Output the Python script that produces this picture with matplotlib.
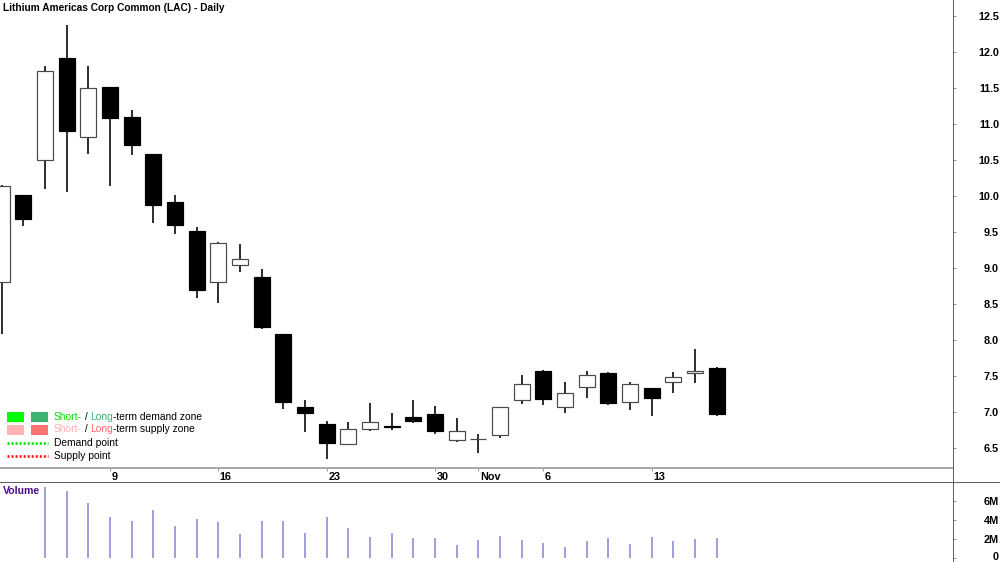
import numpy as np
import pandas as pd
import matplotlib
matplotlib.use("Agg")
import matplotlib.pyplot as plt
from matplotlib.lines import Line2D
from matplotlib.patches import Rectangle
import matplotlib.transforms as mtransforms
from matplotlib.ticker import FuncFormatter

plt.rcParams['font.family'] = ['Liberation Sans', 'DejaVu Sans']

# ---------------- data ----------------
title = "Lithium Americas Corp Common (LAC) - Daily"
dates = pd.bdate_range("2023-10-02", "2023-11-16")
opens  = [8.81, 10.01, 10.50, 11.92, 10.82, 11.51, 11.10, 10.58, 9.92, 9.52,
          8.81, 9.04, 8.875, 8.08, 7.07, 6.83, 6.55, 6.77, 6.81, 6.93,
          6.97, 6.61, 6.625, 6.68, 7.17, 7.57, 7.07, 7.35, 7.545, 7.14,
          7.33, 7.42, 7.54, 7.615]
highs  = [10.15, 10.01, 11.81, 12.38, 11.80, 11.51, 11.19, 10.59, 10.01, 9.57,
          9.36, 9.34, 8.99, 8.08, 7.16, 6.88, 6.86, 7.13, 6.98, 7.17,
          7.08, 6.91, 6.70, 7.07, 7.51, 7.59, 7.42, 7.57, 7.55, 7.42,
          7.33, 7.56, 7.88, 7.62]
lows   = [8.08, 9.59, 10.10, 10.05, 10.58, 10.14, 10.57, 9.62, 9.47, 8.59,
          8.52, 8.94, 8.15, 7.04, 6.72, 6.35, 6.55, 6.73, 6.75, 6.85,
          6.69, 6.59, 6.43, 6.64, 7.11, 7.10, 6.99, 7.20, 7.10, 7.03,
          6.95, 7.27, 7.40, 6.94]
closes = [10.14, 9.68, 11.73, 10.90, 11.50, 11.08, 10.71, 9.875, 9.60, 8.70,
          9.35, 9.12, 8.18, 7.14, 6.98, 6.57, 6.77, 6.86, 6.79, 6.87,
          6.73, 6.73, 6.625, 7.07, 7.385, 7.18, 7.27, 7.52, 7.12, 7.39,
          7.20, 7.49, 7.565, 6.97]
volume_m = [np.nan, np.nan, 7.47, 7.08, 5.85, 4.32, 3.93, 5.08, 3.37, 4.10,
            3.82, 2.59, 3.93, 3.93, 2.69, 4.38, 3.16, 2.27, 2.66, 2.14,
            2.14, 1.40, 1.89, 2.35, 1.96, 1.58, 1.19, 1.79, 2.17, 1.47,
            2.27, 1.82, 2.06, 2.14]
tick_dates = ["2023-10-09", "2023-10-16", "2023-10-23", "2023-10-30",
              "2023-11-01", "2023-11-06", "2023-11-13"]
tick_labels = ["9", "16", "23", "30", "Nov", "6", "13"]
price_ticks = [6.5, 7.0, 7.5, 8.0, 8.5, 9.0, 9.5, 10.0, 10.5, 11.0, 11.5, 12.0, 12.5]
vol_ticks = [0, 2e6, 4e6, 6e6]
vol_tick_labels = ["0", "2M", "4M", "6M"]

# ---------------- figure ----------------
W, H = 1000, 562
fig = plt.figure(figsize=(W / 100, H / 100), dpi=100)

def frac(x0, y0, x1, y1):
    return [x0 / W, 1 - y1 / H, (x1 - x0) / W, (y1 - y0) / H]

PX = 0.72  # points per pixel
ax = fig.add_axes(frac(0, 0, 953, 467.5))
axv = fig.add_axes(frac(0, 482, 953, 562))

o = np.array(opens); c = np.array(closes)
h = np.array(highs); l = np.array(lows)
idx = np.arange(len(o))
up = c >= o

# wicks
ax.vlines(idx, l, h, color="black", linewidth=1.6 * PX, zorder=2)
# bodies
body_bottom = np.minimum(o, c)
body_h = np.abs(c - o)
ax.bar(idx[up], body_h[up], bottom=body_bottom[up], width=0.74,
       color="white", edgecolor="#4a4a4a", linewidth=1.2 * PX, zorder=3)
ax.bar(idx[~up], body_h[~up], bottom=body_bottom[~up], width=0.74,
       color="black", edgecolor="black", linewidth=1.2 * PX, zorder=3)

xlim = (-0.077, 43.9)
ax.set_xlim(*xlim)
ax.set_ylim(12.5 - (467.5 - 16) / 72, 12.5 + 16 / 72)

for s in ["top", "left", "right"]:
    ax.spines[s].set_visible(False)
ax.spines["bottom"].set_color("#a8a8a8")
ax.spines["bottom"].set_linewidth(2 * PX)

ax.yaxis.tick_right()
ax.set_yticks(price_ticks)
ax.yaxis.set_major_formatter(FuncFormatter(lambda v, p: f"{v:.1f}"))
ax.tick_params(axis="y", direction="out", length=3 * PX, width=0.8 * PX,
               color="#808080", pad=31, labelsize=7.8)
for t in ax.get_yticklabels():
    t.set_horizontalalignment("right")
    t.set_fontweight("bold")

pos = [list(dates).index(pd.Timestamp(d)) for d in tick_dates]
ax.set_xticks(pos)
ax.set_xticklabels(tick_labels, fontsize=7.8, fontweight="bold")
ax.tick_params(axis="x", direction="out", length=3 * PX, width=0.8 * PX,
               color="#808080", pad=0.8)
off = mtransforms.ScaledTranslation(1.5 / 100, 0, fig.dpi_scale_trans)
for t in ax.get_xticklabels():
    t.set_horizontalalignment("left")
    t.set_transform(t.get_transform() + off)

# volume
vol = np.array(volume_m) * 1e6
axv.vlines(idx, 0, vol, color="#8a8ad6", linewidth=1.6 * PX)
axv.set_xlim(*xlim)
axv.set_ylim(-(562 - 558.3) / 9.5 * 1e6, (558.3 - 482) / 9.5 * 1e6)
for s in axv.spines.values():
    s.set_visible(False)
axv.set_xticks([])
axv.yaxis.tick_right()
axv.set_yticks(vol_ticks)
axv.set_yticklabels(vol_tick_labels, fontsize=7.8, fontweight="bold")
axv.tick_params(axis="y", direction="out", length=3 * PX, width=0.8 * PX,
                color="#808080", pad=31)
up_off = mtransforms.ScaledTranslation(0, 2.5 / 100, fig.dpi_scale_trans)
for t in axv.get_yticklabels():
    t.set_horizontalalignment("right")
    if t.get_text() == "0":
        t.set_transform(t.get_transform() + up_off)

# overlay in pixel coords
ov = fig.add_axes([0, 0, 1, 1], zorder=10)
ov.set_xlim(0, W)
ov.set_ylim(H, 0)
ov.axis("off")
ov.patch.set_alpha(0)

ov.add_line(Line2D([953, 953], [0, H], color="#606060", linewidth=1 * PX))
ov.add_line(Line2D([0, W], [482, 482], color="#606060", linewidth=1 * PX))

ov.text(3, 8, title, fontsize=7.3, fontweight="bold", va="center", ha="left")
ov.text(3, 491, "Volume", fontsize=7.6, fontweight="bold", color="#4b0f8c",
        va="center", ha="left")

# legend
ov.add_patch(Rectangle((7, 411.5), 17, 10, color="#00ff00", lw=0))
ov.add_patch(Rectangle((31, 411.5), 17, 10, color="#3cb371", lw=0))
ov.add_patch(Rectangle((7, 424.5), 17, 10, color="#ffb3b3", lw=0))
ov.add_patch(Rectangle((31, 424.5), 17, 10, color="#ff7373", lw=0))
ov.add_line(Line2D([7, 48], [442.6, 442.6], color="#00e000", linewidth=2.6 * PX,
                   linestyle=(0, (0.8, 0.75))))
ov.add_line(Line2D([7, 48], [455.7, 455.7], color="#ff1010", linewidth=2.6 * PX,
                   linestyle=(0, (0.8, 0.75))))

renderer = fig.canvas.get_renderer()
LFS = 7.4

def multi_text(x, y, parts):
    for txt, col in parts:
        t = ov.text(x, y, txt, fontsize=LFS, color=col, va="center", ha="left")
        bb = t.get_window_extent(renderer)
        x += bb.width

multi_text(54, 416.5, [("Short-", "#00e000"), (" / ", "black"), ("Long", "#3cb371"),
                       ("-term demand zone", "black")])
multi_text(54, 429.5, [("Short-", "#ffb0b0"), (" / ", "black"), ("Long", "#ff6b6b"),
                       ("-term supply zone", "black")])
ov.text(54, 442.7, "Demand point", fontsize=LFS, va="center", ha="left")
ov.text(54, 455.7, "Supply point", fontsize=LFS, va="center", ha="left")

fig.savefig("out.png", dpi=100)
